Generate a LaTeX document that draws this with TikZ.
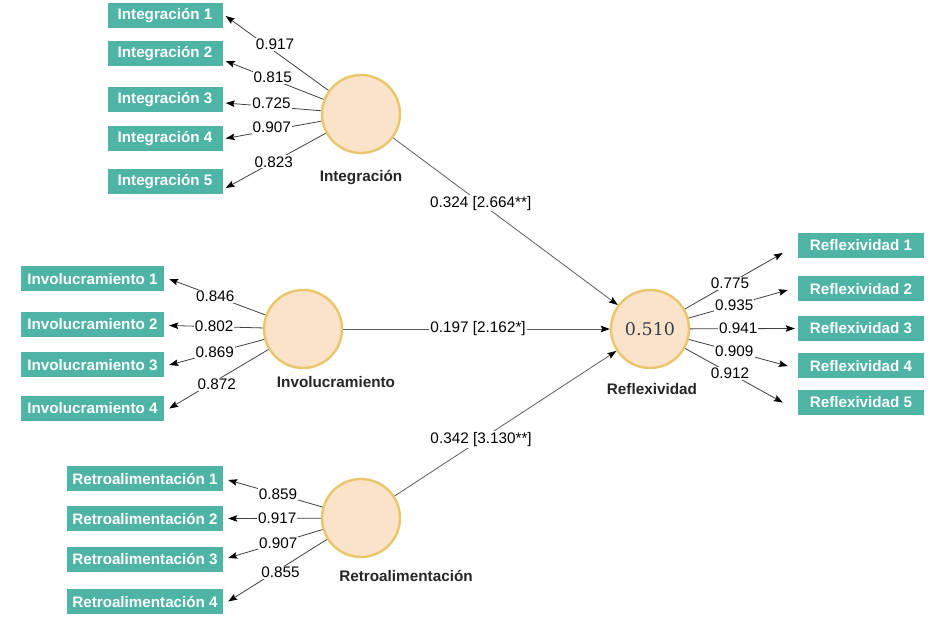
\documentclass[tikz,border=0pt]{standalone}
\usepackage{fontspec}
\setmainfont{Liberation Sans}
\newfontfamily\valfont{DejaVu Serif}
\usetikzlibrary{arrows.meta}

\definecolor{tealbox}{HTML}{4DB4A6}
\definecolor{lvfill}{HTML}{FBE3C9}
\definecolor{lvdraw}{HTML}{E9C56C}
\definecolor{linegray}{HTML}{404040}
\definecolor{valtext}{HTML}{33404F}

\tikzset{
  ind/.style={fill=tealbox, text=white, font=\fontsize{15.2}{17}\selectfont\bfseries,
    minimum height=25pt, inner sep=0pt},
  lv/.style={circle, fill=lvfill, draw=lvdraw, line width=2.4pt, minimum size=78pt, inner sep=0pt},
  lvname/.style={font=\fontsize{15.3}{17}\selectfont\bfseries, text=black!85},
  coef/.style={fill=white, inner sep=1pt, font=\fontsize{15.3}{17}\selectfont, text=black},
  ldg/.style={draw=linegray, line width=0.8pt, ->},
  rel/.style={draw=linegray!85, line width=0.8pt, ->}
}

\begin{document}
\begin{tikzpicture}[x=1pt,y=-1pt,>={Stealth[length=9pt,width=6.5pt,inset=1.5pt,color=black]}]
    \useasboundingbox (0,0) rectangle (930,620);

    \node[lv] (int) at (361,114) {};
    \node[lv] (inv) at (303,329) {};
    \node[lv] (ret) at (361,518) {};
    \node[lv, font=\valfont\fontsize{17.5}{20}\selectfont, text=valtext] (refl) at (650,329) {0.510};

    \node[lvname] (intname) at (361,178) {Integración};
    \node[lvname] (invname) at (336,382) {Involucramiento};
    \node[lvname] (retname) at (406,576) {Retroalimentación};
    \node[lvname] (reflname) at (652,389) {Reflexividad};

    \foreach \n/\y in {1/16,2/54,3/99.5,4/138.5,5/181.5}
      \node[ind, minimum width=115pt] (int\n) at (165,\y) {Integración \n};
    \foreach \n/\y in {1/279,2/324.5,3/365,4/408.5}
      \node[ind, minimum width=143pt] (inv\n) at (92.5,\y) {Involucramiento \n};
    \foreach \n/\y in {1/479,2/518.5,3/559,4/601.5}
      \node[ind, minimum width=156pt] (ret\n) at (145,\y) {Retroalimentación \n};
    \foreach \n/\y in {1/245.5,2/289,3/328.5,4/366,5/402.5}
      \node[ind, minimum width=126pt] (refl\n) at (861,\y) {Reflexividad \n};

    \foreach \n/\l/\dy/\s in {1/0.917/0pt/7pt,2/0.815/-7pt/2pt,3/0.725/-3.5pt/3pt,4/0.907/0pt/3pt,5/0.823/-6.5pt/0pt}
      \draw[ldg] (int) -- ([xshift=3pt,yshift=\dy]int\n.east) node[coef, pos=.52, yshift=\s] {\l};
    \foreach \n/\l/\dy/\s in {1/0.846/0pt/0pt,2/0.802/-1pt/0pt,3/0.869/0pt/0pt,4/0.872/0pt/-4pt}
      \draw[ldg] (inv) -- ([xshift=5pt,yshift=\dy]inv\n.east) node[coef, pos=.52, yshift=\s] {\l};
    \foreach \n/\l/\dy/\s in {1/0.859/-1pt/0pt,2/0.917/0pt/0pt,3/0.907/1pt/0pt,4/0.855/0pt/-4pt}
      \draw[ldg] (ret) -- ([xshift=5pt,yshift=\dy]ret\n.east) node[coef, pos=.47, yshift=\s] {\l};
    \foreach \n/\l/\dx/\dy in {1/0.775/15pt/-7.5pt,2/0.935/10pt/-1pt,3/0.941/3pt/0pt,4/0.909/10pt/0pt,5/0.912/15pt/0pt}
      \draw[ldg] (refl) -- ([xshift=-\dx,yshift=\dy]refl\n.west) node[coef, pos=.46] {\l};

    \draw[rel] (int) -- (refl) node[coef, pos=.39] {0.324 [2.664**]};
    \draw[rel] (inv) -- (refl) node[coef, pos=.506] {0.197 [2.162*]};
    \draw[rel] (ret) -- (refl) node[coef, pos=.39] {0.342 [3.130**]};
\end{tikzpicture}
\end{document}
